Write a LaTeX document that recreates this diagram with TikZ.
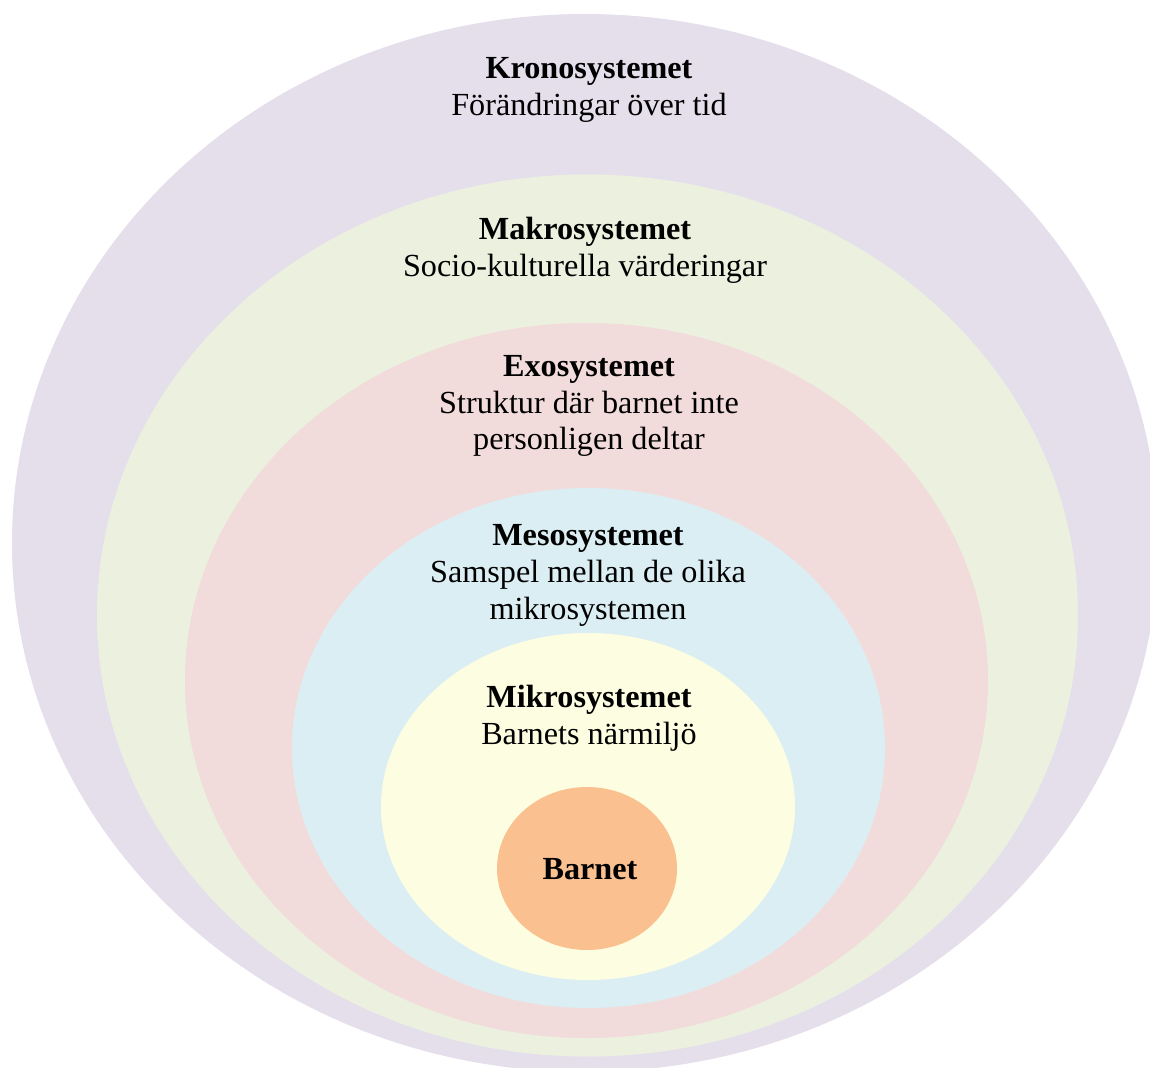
\documentclass[tikz,border=0pt]{standalone}
\usepackage{fontspec}
\setmainfont{Liberation Serif}
\usetikzlibrary{shapes.geometric}
\definecolor{kronoc}{HTML}{E5DFEC}
\definecolor{makroc}{HTML}{EBF0DF}
\definecolor{exoc}{HTML}{F2DCDB}
\definecolor{mesoc}{HTML}{DBEEF3}
\definecolor{mikroc}{HTML}{FDFDE1}
\definecolor{barnc}{HTML}{FAC090}
\begin{document}
\begin{tikzpicture}[x=0.5pt,y=-0.5pt,
  ring/.style={ellipse,draw=none,inner sep=0pt,outer sep=0pt},
  lbl/.style={align=center,font=\fontsize{16.1}{18.3}\selectfont,inner sep=0pt}]
\useasboundingbox (0,0) rectangle (1150,1068);
\clip (0,0) rectangle (1150,1068);
\node[ring,fill=kronoc,minimum width=1146pt*0.5,minimum height=1058pt*0.5] (krono) at (585,543) {};
\node[ring,fill=makroc,minimum width=981pt*0.5,minimum height=882pt*0.5] (makro) at (587.5,615.5) {};
\node[ring,fill=exoc,minimum width=803pt*0.5,minimum height=715pt*0.5] (exo) at (586.5,680.5) {};
\node[ring,fill=mesoc,minimum width=593pt*0.5,minimum height=520pt*0.5] (meso) at (588.5,748) {};
\node[ring,fill=mikroc,minimum width=414pt*0.5,minimum height=347pt*0.5] (mikro) at (588,806.5) {};
\node[ring,fill=barnc,minimum width=180pt*0.5,minimum height=163pt*0.5] (barn) at (587,868.5) {};
\node[lbl] (tkrono) at (589,90) {\textbf{Kronosystemet}\\Förändringar över tid};
\node[lbl] (tmakro) at (585,250.5) {\textbf{Makrosystemet}\\Socio-kulturella värderingar};
\node[lbl] (texo) at (589,406) {\textbf{Exosystemet}\\Struktur där barnet inte\\personligen deltar};
\node[lbl] (tmeso) at (588,575.5) {\textbf{Mesosystemet}\\Samspel mellan de olika\\mikrosystemen};
\node[lbl] (tmikro) at (589,718.5) {\textbf{Mikrosystemet}\\Barnets närmiljö};
\node[lbl] (tbarn) at (590,869) {\textbf{Barnet}};
\end{tikzpicture}
\end{document}
